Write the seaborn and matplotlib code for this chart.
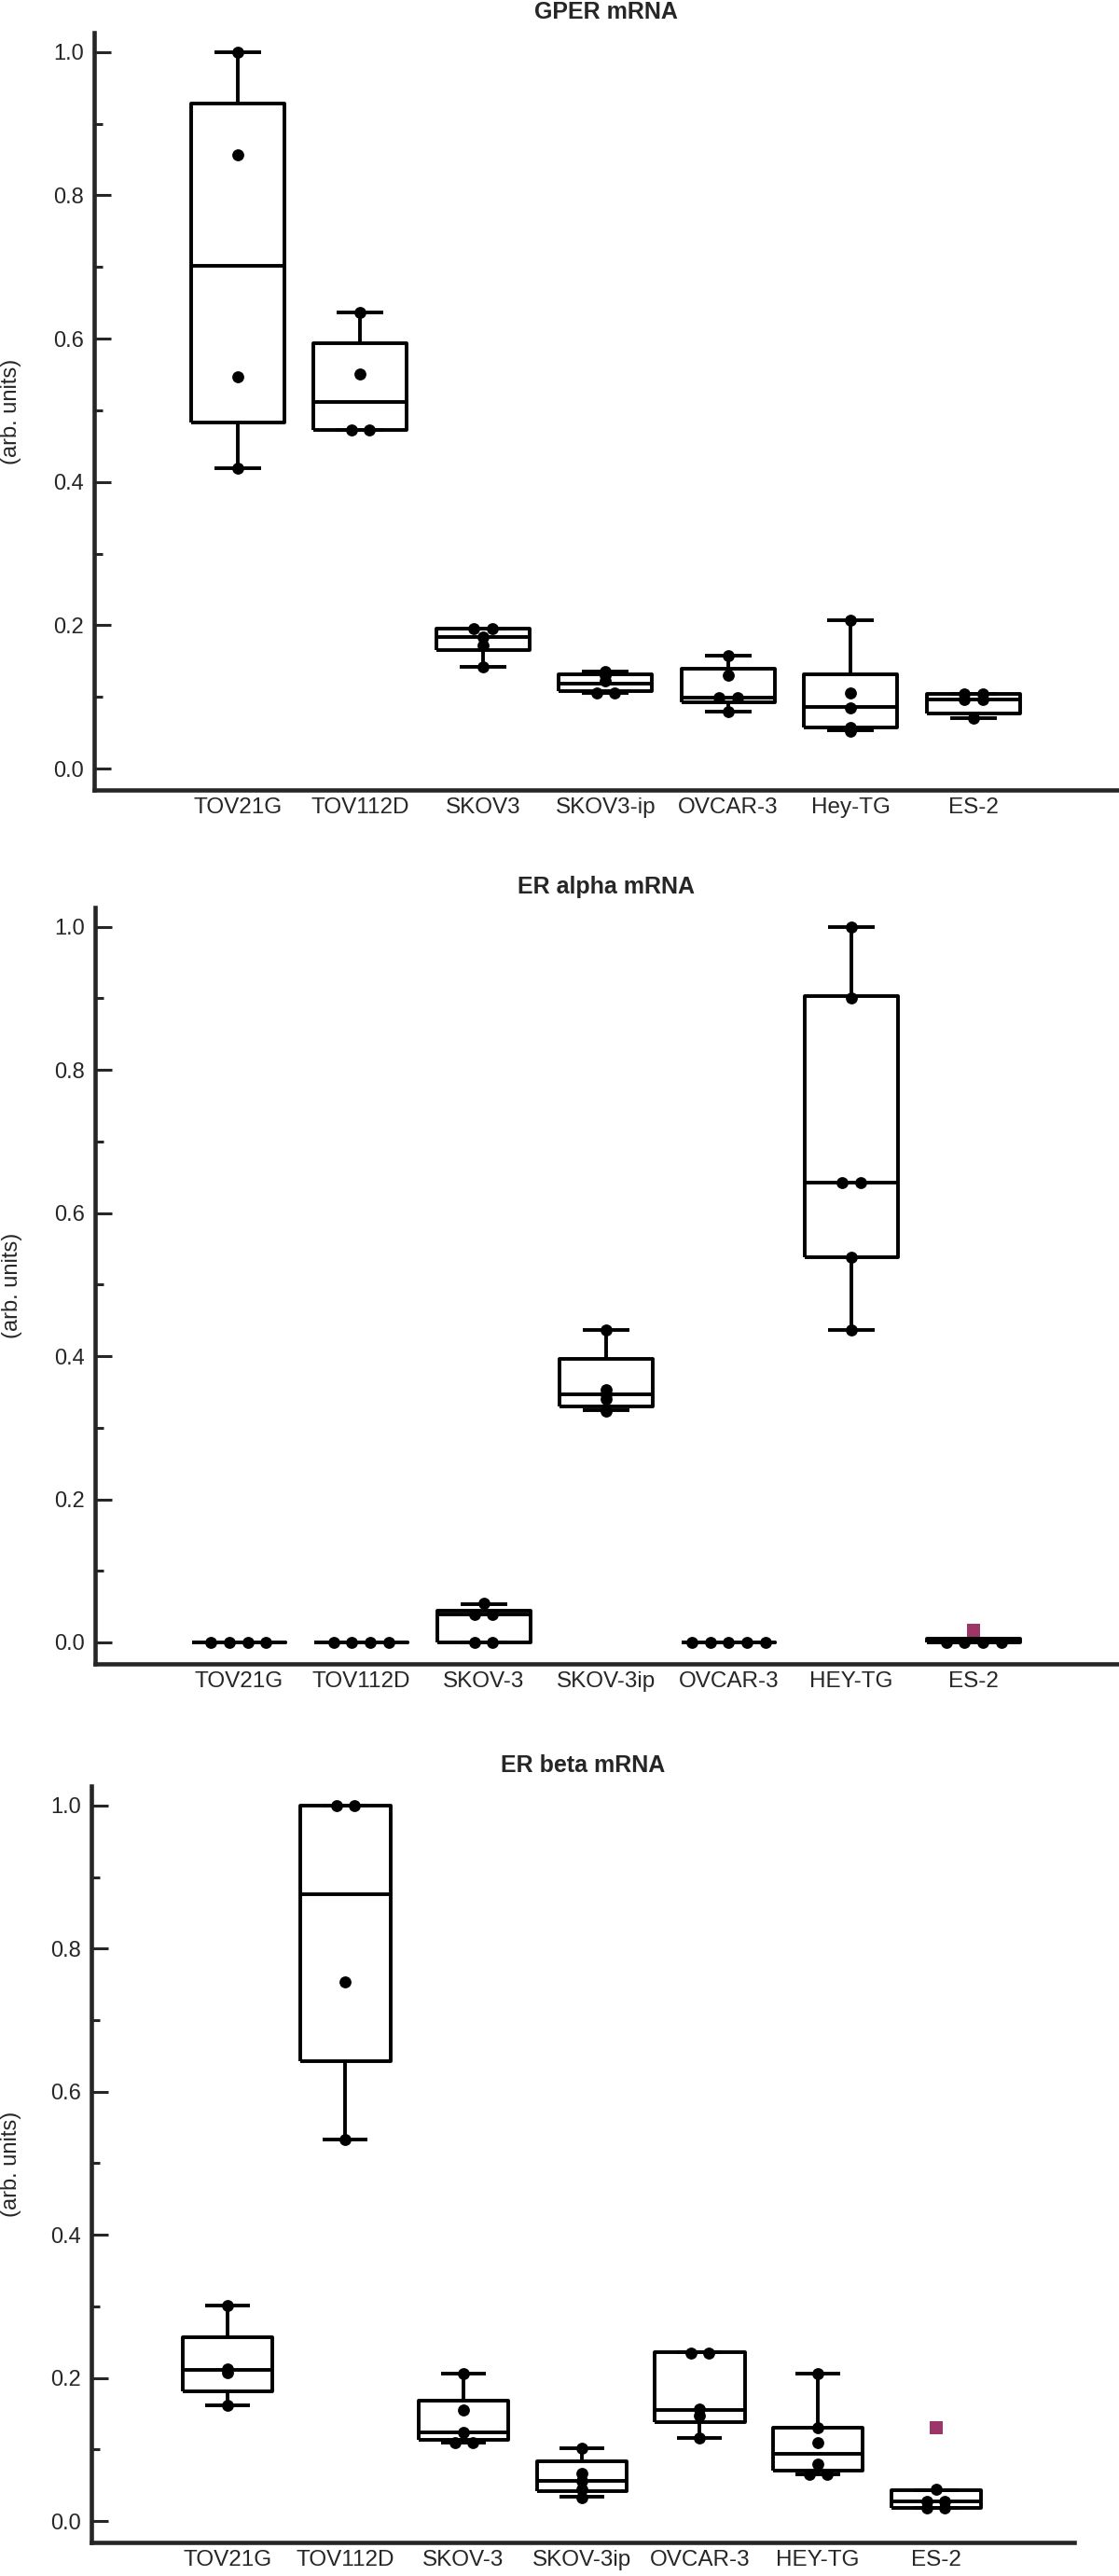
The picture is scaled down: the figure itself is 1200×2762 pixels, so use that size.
import numpy as np
import pandas as pd
import seaborn as sns
import matplotlib.pyplot as plt
from matplotlib.ticker import MultipleLocator

# Cell line labels (panel 1 uses different spelling)
lines_gper = ['TOV21G', 'TOV112D', 'SKOV3', 'SKOV3-ip', 'OVCAR-3', 'Hey-TG', 'ES-2']
lines_er = ['TOV21G', 'TOV112D', 'SKOV-3', 'SKOV-3ip', 'OVCAR-3', 'HEY-TG', 'ES-2']

gper_points = [[0.419, 0.547, 0.856, 1.0],
               [0.472, 0.472, 0.551, 0.637],
               [0.1415, 0.172, 0.183, 0.195, 0.195],
               [0.105, 0.105, 0.122, 0.130, 0.136],
               [0.079, 0.099, 0.099, 0.130, 0.157],
               [0.052, 0.057, 0.085, 0.106, 0.207],
               [0.071, 0.096, 0.096, 0.104, 0.104]]
gper_lo = [0.419, 0.472, 0.1415, 0.105, 0.079, 0.053, 0.071]
gper_q1 = [0.483, 0.472, 0.165, 0.108, 0.092, 0.058, 0.077]
gper_med = [0.702, 0.512, 0.183, 0.119, 0.0985, 0.0855, 0.096]
gper_q3 = [0.928, 0.594, 0.195, 0.131, 0.139, 0.132, 0.104]
gper_hi = [1.0, 0.637, 0.195, 0.135, 0.157, 0.207, 0.104]
gper_out = [[], [], [], [], [], [], []]

# ER alpha mRNA
era_points = [[0, 0, 0, 0],
              [0, 0, 0, 0],
              [0, 0, 0.039, 0.039, 0.055],
              [0.323, 0.340, 0.347, 0.353, 0.436],
              [0, 0, 0, 0, 0],
              [0.436, 0.538, 0.642, 0.642, 0.901, 1.0],
              [0, 0, 0, 0]]
era_lo = [0, 0, 0, 0.325, 0, 0.436, 0]
era_q1 = [0, 0, 0, 0.330, 0, 0.538, 0]
era_med = [0, 0, 0.039, 0.347, 0, 0.642, 0.002]
era_q3 = [0, 0, 0.044, 0.396, 0, 0.903, 0.005]
era_hi = [0, 0, 0.054, 0.436, 0, 1.0, 0.005]
era_out = [[], [], [], [], [], [], [0.017]]

# ER beta mRNA
erb_points = [[0.162, 0.207, 0.213, 0.301],
              [0.533, 0.754, 1.0, 1.0],
              [0.110, 0.110, 0.124, 0.155, 0.206],
              [0.033, 0.045, 0.056, 0.066, 0.102],
              [0.116, 0.147, 0.156, 0.235, 0.235],
              [0.065, 0.065, 0.080, 0.110, 0.131, 0.206],
              [0.019, 0.019, 0.028, 0.028, 0.044]]
erb_lo = [0.162, 0.533, 0.110, 0.034, 0.116, 0.065, 0.019]
erb_q1 = [0.1815, 0.643, 0.1134, 0.042, 0.1386, 0.070, 0.019]
erb_med = [0.211, 0.8765, 0.1243, 0.056, 0.155, 0.094, 0.028]
erb_q3 = [0.2575, 1.0, 0.168, 0.084, 0.2356, 0.131, 0.043]
erb_hi = [0.3015, 1.0, 0.206, 0.102, 0.2356, 0.206, 0.043]
erb_out = [[], [], [], [], [], [], [0.131]]

sns.set_style('ticks')
plt.rcParams['font.family'] = ['Liberation Sans', 'DejaVu Sans']

LW = 2.8
SPREAD = 0.15


def point_table(points):
    # spread identical values side by side, like the original plot
    rows = []
    for i, vals in enumerate(points):
        vals = np.asarray(vals, dtype=float)
        for v in np.unique(vals):
            n = int((vals == v).sum())
            for k in range(n):
                rows.append((i + (k - (n - 1) / 2) * SPREAD, v))
    return pd.DataFrame(rows, columns=['x', 'value'])


def draw_panel(ax, title, labels, points, lo, q1, med, q3, hi, out, xlim):
    stats = [dict(whislo=a, q1=b, med=c, q3=d, whishi=e, fliers=[])
             for a, b, c, d, e in zip(lo, q1, med, q3, hi)]
    line = dict(color='black', linewidth=LW, solid_capstyle='butt')
    ax.bxp(stats, positions=range(len(labels)), widths=0.76, showfliers=False,
           boxprops=line, whiskerprops=line, capprops=line,
           medianprops=dict(color='black', linewidth=LW), manage_ticks=False)

    sns.scatterplot(data=point_table(points), x='x', y='value', color='black',
                    s=85, linewidth=0, ax=ax, zorder=3, legend=False)

    out_df = pd.DataFrame([(i, v) for i, vals in enumerate(out) for v in vals],
                          columns=['x', 'value'])
    if len(out_df):
        sns.scatterplot(data=out_df, x='x', y='value', color='#9e3569', marker='s',
                        s=95, linewidth=0, ax=ax, zorder=4, legend=False)

    ax.set_xlim(*xlim)
    ax.set_ylim(-0.03, 1.027)
    ax.set_xticks(range(len(labels)))
    ax.set_xticklabels(labels, fontsize=17.5)
    ax.tick_params(axis='x', length=0, pad=6)
    ax.yaxis.set_major_locator(MultipleLocator(0.2))
    ax.yaxis.set_minor_locator(MultipleLocator(0.1))
    ax.tick_params(axis='y', which='major', direction='in', length=13, width=2.2,
                   labelsize=17, pad=8)
    ax.tick_params(axis='y', which='minor', direction='in', length=6.5, width=2.2)
    ax.set_xlabel('')
    ax.set_ylabel('(arb. units)', fontsize=17)
    ax.yaxis.set_label_coords(-0.071, 0.5)
    ax.set_title(title, fontsize=18, fontweight='bold', pad=11)
    sns.despine(ax=ax)
    for side in ['left', 'bottom']:
        ax.spines[side].set_linewidth(3.3)


fig = plt.figure(figsize=(12, 27.62), dpi=100)
ax1 = fig.add_axes([0.0842, 0.6933, 0.914, 0.294])
ax2 = fig.add_axes([0.085, 0.3541, 0.9133, 0.2936])
ax3 = fig.add_axes([0.0817, 0.0130, 0.8783, 0.2936])

draw_panel(ax1, 'GPER mRNA', lines_gper, gper_points, gper_lo, gper_q1,
           gper_med, gper_q3, gper_hi, gper_out, (-1.17, 7.17))
draw_panel(ax2, 'ER alpha mRNA', lines_er, era_points, era_lo, era_q1,
           era_med, era_q3, era_hi, era_out, (-1.17, 7.17))
draw_panel(ax3, 'ER beta mRNA', lines_er, erb_points, erb_lo, erb_q1,
           erb_med, erb_q3, erb_hi, erb_out, (-1.15, 7.17))

fig.savefig('out.png', dpi=100)
